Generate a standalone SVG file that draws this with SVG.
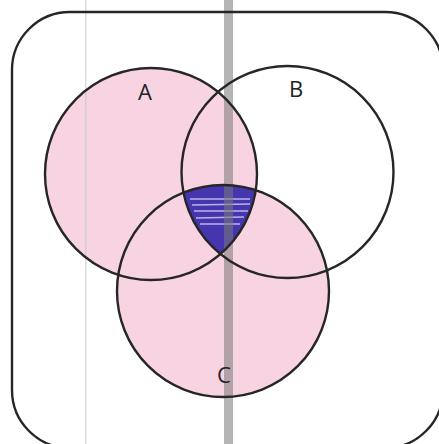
<svg xmlns="http://www.w3.org/2000/svg" width="439" height="444" viewBox="0 0 439 444">
<defs>
<style>
.ring{fill:none;stroke:#262626;stroke-width:2.4}
.lbl{font-family:"Open Sans","Liberation Sans",sans-serif;font-size:22px;fill:#222;text-anchor:middle}
.pink{fill:#f8d4e2}
</style>
<clipPath id="clipA"><circle cx="151" cy="174" r="106"/></clipPath>
<clipPath id="clipB"><circle cx="287.5" cy="172" r="106"/></clipPath>
</defs>
<rect width="439" height="444" fill="#ffffff"/>
<g id="fill">
<circle class="pink" cx="151" cy="174" r="106"/>
<circle class="pink" cx="223" cy="291" r="106"/>
<g clip-path="url(#clipA)"><g clip-path="url(#clipB)">
<circle cx="223" cy="291" r="106" fill="#4536b0"/>
<g stroke="#d8d4f2" stroke-width="1.4" opacity="0.8">
<line x1="190" y1="199" x2="250" y2="199"/>
<line x1="192" y1="205" x2="250" y2="204"/>
<line x1="194" y1="211" x2="248" y2="211"/>
<line x1="196" y1="218" x2="244" y2="217"/>
<line x1="200" y1="224" x2="240" y2="224"/>
</g>
</g></g>
</g>
<g id="scan" opacity="0.55">
<rect x="224" y="0" width="9" height="444" fill="#7a7a7a"/>
<rect x="85" y="0" width="1.5" height="444" fill="#b8c2cc"/>
</g>
<g id="universe"><rect class="ring" x="12" y="12" width="431" height="436" rx="58"/></g>
<g id="A"><circle class="ring" cx="151" cy="174" r="106"/><text class="lbl" x="145" y="100">A</text></g>
<g id="B"><circle class="ring" cx="287.5" cy="172" r="106"/><text class="lbl" x="296" y="97">B</text></g>
<g id="C"><circle class="ring" cx="223" cy="291" r="106"/><text class="lbl" x="224" y="383">C</text></g>
<g id="connectors"/>
</svg>
